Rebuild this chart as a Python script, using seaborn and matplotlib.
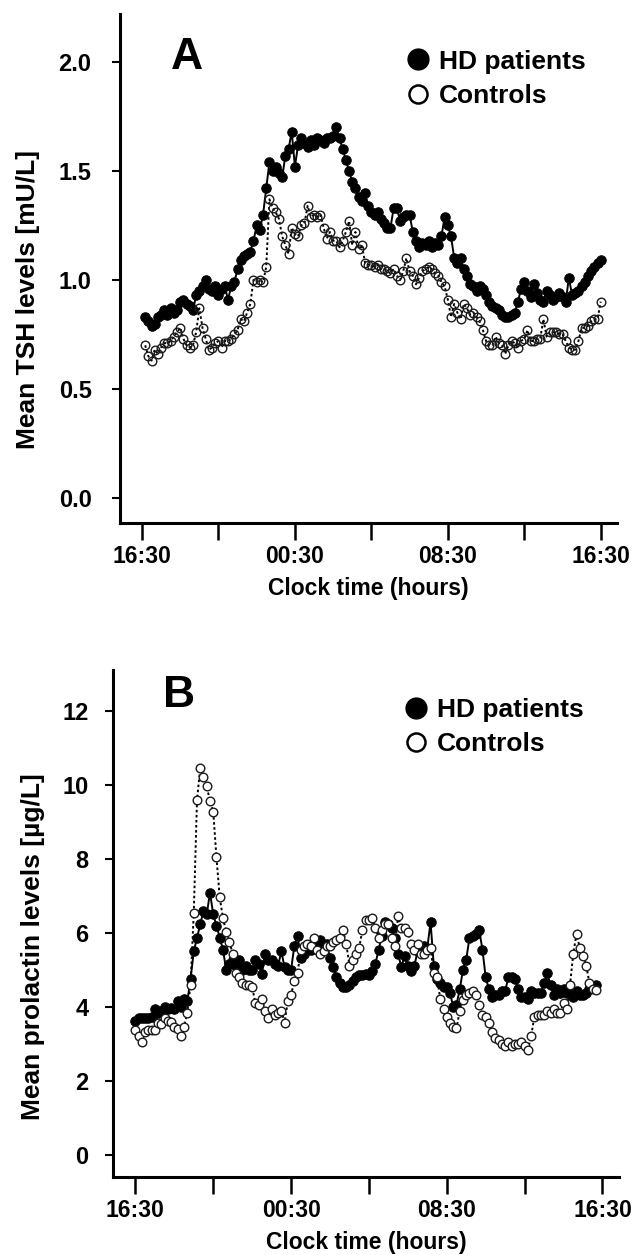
import matplotlib
matplotlib.use("Agg")
import matplotlib.pyplot as plt
import numpy as np
import pandas as pd
import seaborn as sns
from matplotlib.lines import Line2D

# ---------------- data ----------------
# sampling every 10 min, counted in minutes after 16:30
tsh_minutes = np.arange(10, 1441, 10)
prl_minutes = np.arange(0, 1421, 10)

tsh_hd = [
    0.83, 0.81, 0.79, 0.80, 0.83, 0.84,
    0.86, 0.84, 0.87, 0.85, 0.86, 0.90,
    0.91, 0.89, 0.88, 0.86, 0.93, 0.95,
    0.97, 1.00, 0.96, 0.95, 0.97, 0.93,
    0.96, 0.97, 0.91, 0.97, 0.99, 1.05,
    1.09, 1.11, 1.12, 1.13, 1.18, 1.25,
    1.23, 1.30, 1.42, 1.54, 1.50, 1.52,
    1.49, 1.47, 1.57, 1.60, 1.68, 1.52,
    1.62, 1.65, 1.63, 1.61, 1.64, 1.62,
    1.65, 1.64, 1.63, 1.65, 1.65, 1.66,
    1.70, 1.65, 1.60, 1.55, 1.50, 1.45,
    1.42, 1.38, 1.36, 1.40, 1.34, 1.31,
    1.30, 1.31, 1.28, 1.26, 1.24, 1.24,
    1.33, 1.33, 1.27, 1.29, 1.30, 1.30,
    1.22, 1.18, 1.15, 1.17, 1.16, 1.18,
    1.15, 1.17, 1.16, 1.20, 1.29, 1.25,
    1.20, 1.10, 1.08, 1.10, 1.05, 1.02,
    0.98, 0.97, 0.95, 0.97, 0.96, 0.93,
    0.90, 0.88, 0.87, 0.86, 0.84, 0.83,
    0.83, 0.84, 0.85, 0.90, 0.96, 0.99,
    0.95, 0.92, 0.98, 0.94, 0.91, 0.90,
    0.95, 0.93, 0.91, 0.92, 0.94, 0.92,
    0.90, 1.01, 0.93, 0.94, 0.95, 0.97,
    0.99, 1.02, 1.04, 1.06, 1.08, 1.09,
]
tsh_ctrl = [
    0.70, 0.65, 0.63, 0.68, 0.66, 0.69,
    0.71, 0.71, 0.72, 0.74, 0.76, 0.78,
    0.73, 0.70, 0.69, 0.70, 0.76, 0.87,
    0.78, 0.73, 0.68, 0.69, 0.71, 0.72,
    0.69, 0.72, 0.72, 0.73, 0.75, 0.77,
    0.82, 0.81, 0.85, 0.89, 1.00, 0.99,
    1.00, 0.99, 1.06, 1.37, 1.33, 1.31,
    1.28, 1.20, 1.16, 1.12, 1.24, 1.21,
    1.20, 1.25, 1.26, 1.34, 1.29, 1.30,
    1.29, 1.30, 1.24, 1.19, 1.22, 1.18,
    1.18, 1.15, 1.18, 1.22, 1.27, 1.16,
    1.22, 1.14, 1.16, 1.08, 1.07, 1.07,
    1.06, 1.07, 1.05, 1.05, 1.04, 1.03,
    1.05, 1.02, 1.00, 1.04, 1.10, 1.04,
    1.02, 0.98, 1.01, 1.04, 1.05, 1.06,
    1.05, 1.03, 1.02, 0.99, 0.97, 0.91,
    0.83, 0.89, 0.85, 0.82, 0.89, 0.87,
    0.84, 0.85, 0.83, 0.81, 0.77, 0.72,
    0.70, 0.70, 0.74, 0.71, 0.70, 0.66,
    0.70, 0.72, 0.71, 0.69, 0.72, 0.73,
    0.77, 0.72, 0.72, 0.73, 0.73, 0.82,
    0.74, 0.76, 0.76, 0.76, 0.75, 0.75,
    0.72, 0.69, 0.68, 0.68, 0.72, 0.78,
    0.78, 0.79, 0.81, 0.82, 0.82, 0.90,
]

prl_hd = [
    3.63, 3.69, 3.69, 3.71, 3.70, 3.72,
    3.95, 3.85, 3.90, 4.00, 3.95, 3.98,
    3.95, 4.17, 4.00, 4.22, 4.15, 4.75,
    5.50, 5.87, 6.24, 6.60, 6.50, 7.09,
    6.50, 6.20, 5.87, 5.55, 5.00, 5.17,
    5.28, 5.12, 5.28, 5.00, 5.12, 5.00,
    5.00, 5.28, 5.17, 4.90, 5.44, 5.28,
    5.28, 5.17, 5.12, 5.50, 5.07, 5.00,
    5.00, 5.65, 5.92, 5.33, 5.44, 5.55,
    5.55, 5.76, 5.65, 5.81, 5.65, 5.70,
    5.33, 5.07, 4.80, 4.64, 4.54, 4.54,
    4.59, 4.70, 4.80, 4.86, 4.86, 4.90,
    4.86, 4.96, 5.17, 5.55, 5.92, 6.29,
    6.24, 6.13, 5.87, 5.44, 5.07, 5.39,
    5.12, 4.96, 5.12, 5.50, 5.55, 5.65,
    5.60, 6.29, 5.12, 4.75, 4.64, 4.54,
    4.54, 4.38, 4.00, 4.06, 4.48, 5.00,
    5.28, 5.87, 5.92, 5.97, 6.08, 5.55,
    4.80, 4.48, 4.27, 4.33, 4.33, 4.43,
    4.43, 4.80, 4.80, 4.75, 4.48, 4.27,
    4.27, 4.22, 4.43, 4.38, 4.38, 4.38,
    4.64, 4.91, 4.59, 4.33, 4.48, 4.38,
    4.48, 4.38, 4.48, 4.27, 4.43, 4.33,
    4.33, 4.38, 4.48, 4.55, 4.59,
]
prl_ctrl = [
    3.37, 3.21, 3.05, 3.32, 3.37, 3.37,
    3.37, 3.58, 3.53, 3.69, 3.63, 3.60,
    3.47, 3.40, 3.21, 3.47, 3.85, 4.60,
    6.54, 9.59, 10.46, 10.22, 9.96, 9.56,
    9.27, 8.04, 6.96, 6.40, 6.03, 5.76,
    5.44, 4.91, 4.80, 4.64, 4.59, 4.59,
    4.54, 4.11, 4.06, 4.22, 3.90, 3.69,
    3.95, 3.79, 3.85, 3.90, 3.58, 4.17,
    4.33, 4.70, 4.91, 5.55, 5.65, 5.71,
    5.65, 5.87, 5.55, 5.44, 5.50, 5.65,
    5.65, 5.76, 5.81, 5.87, 6.08, 5.71,
    5.12, 5.28, 5.44, 5.60, 6.08, 6.34,
    6.34, 6.40, 6.13, 5.87, 6.08, 6.24,
    6.24, 5.87, 5.65, 6.45, 6.13, 6.13,
    6.03, 5.71, 5.55, 5.71, 5.44, 5.44,
    5.55, 5.60, 4.91, 4.80, 4.22, 3.95,
    3.74, 3.58, 3.47, 3.42, 3.90, 4.20,
    4.33, 4.38, 4.43, 4.33, 4.06, 3.79,
    3.74, 3.58, 3.32, 3.16, 3.10, 3.00,
    2.94, 3.05, 2.94, 3.00, 3.00, 3.05,
    2.94, 2.84, 3.21, 3.74, 3.79, 3.79,
    3.79, 3.90, 3.85, 3.95, 3.85, 3.85,
    4.11, 3.95, 4.59, 5.44, 5.97, 5.60,
    5.39, 5.12, 4.64, 4.48, 4.45,
]

x_tick_hours = [0, 4, 8, 12, 16, 20, 24]
x_tick_labels = ["16:30", "", "00:30", "", "08:30", "", "16:30"]
tsh_yticks = [0.0, 0.5, 1.0, 1.5, 2.0]
prl_yticks = [0, 2, 4, 6, 8, 10, 12]
series_labels = ["HD patients", "Controls"]

# ---------------- style ----------------
sns.set_style("ticks")
plt.rcParams['font.family'] = ['Liberation Sans', 'DejaVu Sans']
plt.rcParams['font.weight'] = 'bold'
plt.rcParams['axes.labelweight'] = 'bold'
for key in ("text.color", "axes.labelcolor", "xtick.color", "ytick.color", "axes.edgecolor"):
    plt.rcParams[key] = "black"


def draw_panel(ax, minutes, hd, ctrl, ctrl_face, ylim, yticks, yfmt,
               ylabel, letter, ypad, ylab_xy, letter_xy, legend_xy):
    df = pd.DataFrame({"hours": np.asarray(minutes) / 60.0, "hd": hd, "ctrl": ctrl})
    sns.lineplot(data=df, x="hours", y="hd", ax=ax, estimator=None, color="black",
                 linewidth=1.4, marker="o", markersize=6.8, markerfacecolor="black",
                 markeredgecolor="black", zorder=3)
    sns.lineplot(data=df, x="hours", y="ctrl", ax=ax, estimator=None, color="black",
                 linewidth=1.4, linestyle=(0, (1.3, 1.3)), marker="o", markersize=6.2,
                 markerfacecolor=ctrl_face, markeredgecolor="#1a1a1a",
                 markeredgewidth=1.0, zorder=4)

    ax.set_xlim(-1.15, 24.85)
    ax.set_ylim(*ylim)
    ax.set_xticks(x_tick_hours)
    ax.set_xticklabels(x_tick_labels)
    ax.set_yticks(yticks)
    ax.set_yticklabels([yfmt.format(v) for v in yticks])
    sns.despine(ax=ax)
    for s in ("left", "bottom"):
        ax.spines[s].set_linewidth(2.2)
    ax.tick_params(axis="x", length=12, width=1.8, pad=4, labelsize=16.5)
    ax.tick_params(axis="y", length=5.5, width=1.5, pad=ypad, labelsize=17)
    for lab in ax.get_xticklabels() + ax.get_yticklabels():
        lab.set_fontweight("bold")

    ax.set_xlabel("Clock time (hours)", fontsize=16.5, fontweight="bold", labelpad=6)
    ax.set_ylabel(ylabel, fontsize=19, fontweight="bold")
    ax.yaxis.set_label_coords(*ylab_xy)

    ax.text(letter_xy[0], letter_xy[1], letter, transform=ax.transAxes,
            fontsize=32, fontweight="bold", ha="center", va="center")

    handles = [
        Line2D([], [], linestyle="none", marker="o", markersize=15,
               markerfacecolor="black", markeredgecolor="black"),
        Line2D([], [], linestyle="none", marker="o", markersize=13,
               markerfacecolor="white", markeredgecolor="black", markeredgewidth=1.8),
    ]
    leg = ax.legend(handles, series_labels, loc="upper left", bbox_to_anchor=legend_xy,
                    frameon=False, fontsize=19, handlelength=0.9, handletextpad=0.35,
                    labelspacing=0.4, borderpad=0, borderaxespad=0)
    for t in leg.get_texts():
        t.set_fontweight("bold")


fig = plt.figure(figsize=(6.37, 12.55), dpi=100)
W, H = 637.0, 1255.0
ax_a = fig.add_axes([120 / W, 1 - 523 / H, 497 / W, 509 / H])
ax_b = fig.add_axes([113 / W, 1 - 1177 / H, 506 / W, 507 / H])

draw_panel(ax_a, tsh_minutes, tsh_hd, tsh_ctrl, "none", (-0.115, 2.22), tsh_yticks,
           "{:.1f}", "Mean TSH levels [mU/L]", "A", 15,
           (-0.16, 0.44), (0.135, 0.915), (0.575, 0.93))
draw_panel(ax_b, prl_minutes, prl_hd, prl_ctrl, "white", (-0.59, 13.1), prl_yticks,
           "{:d}", "Mean prolactin levels [µg/L]", "B", 12,
           (-0.135, 0.455), (0.13, 0.95), (0.575, 0.945))

fig.savefig("out.png", dpi=100)
